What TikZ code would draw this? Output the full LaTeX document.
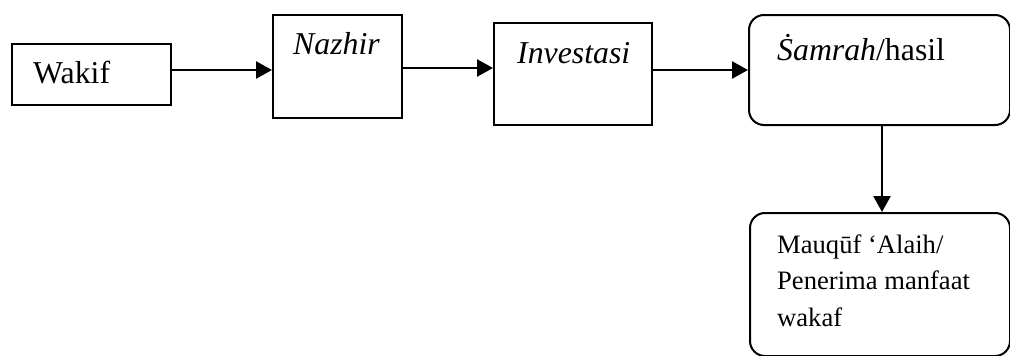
\documentclass[tikz,border=0pt]{standalone}
\usepackage{fontspec}
\setmainfont{Liberation Serif}
\usetikzlibrary{arrows.meta}
\begin{document}
\begin{tikzpicture}[x=1pt,y=-1pt,
  box/.style={draw,line width=2pt,inner sep=0pt,anchor=north west},
  rbox/.style={box,rounded corners=15pt},
  lbl/.style={anchor=base west,inner sep=0pt,font=\fontsize{31.8}{38}\selectfont},
  slbl/.style={anchor=base west,inner sep=0pt,align=left,font=\fontsize{26.6}{36.5}\selectfont},
  arr/.style={line width=2.6pt,-{Triangle[length=16pt,width=17pt]}}]
\useasboundingbox (0,0) rectangle (1010,356);
% boxes
\node[box,minimum width=159pt,minimum height=61pt] (wakif) at (11,43) {};
\node[box,minimum width=129pt,minimum height=103pt] (nazhir) at (272,14) {};
\node[box,minimum width=158pt,minimum height=102pt] (invest) at (493,22) {};
\node[rbox,minimum width=261pt,minimum height=110pt] (samrah) at (748,14) {};
\node[rbox,minimum width=260pt,minimum height=143pt] (mauquf) at (749,212) {};
% labels
\node[lbl] (twakif) at (33,83) {Wakif};
\node[lbl] (tnazhir) at (293,54) {\itshape Nazhir};
\node[lbl] (tinvest) at (517,63) {\itshape Investasi};
\node[lbl] (tsamrah) at (777,60) {\itshape Ṡamrah\upshape/hasil};
\node[slbl] (tmauquf) at (777,326) {Mauqūf ‘Alaih/\\Penerima manfaat\\wakaf};
% connectors
\draw[arr] (wakif.east |- 0,70) -- (nazhir.west |- 0,70);
\draw[arr] (nazhir.east |- 0,68) -- (invest.west |- 0,68);
\draw[arr] (invest.east |- 0,70) -- (samrah.west |- 0,70);
\draw[arr] (samrah.south -| 882,0) -- (mauquf.north -| 882,0);
\end{tikzpicture}
\end{document}
